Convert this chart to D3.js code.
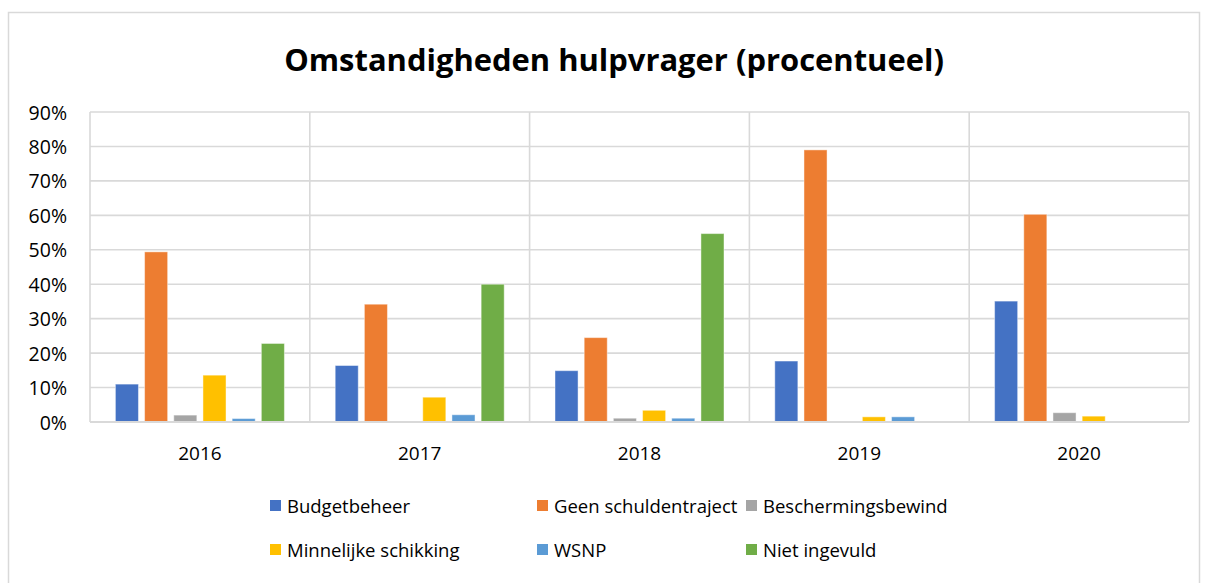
<!DOCTYPE html>
<html>
<head>
<meta charset="utf-8">
<script src="https://cdn.jsdelivr.net/npm/d3@7"></script>
<style>
  html, body { margin: 0; padding: 0; background: #ffffff; }
  svg { display: block; }
  text { font-family: "Open Sans", "Noto Sans", sans-serif; fill: #000; }
</style>
</head>
<body>
<svg id="chart" width="1208" height="583"></svg>
<script>
// ---- data ----
const years = ["2016", "2017", "2018", "2019", "2020"];
const seriesNames = ["Budgetbeheer", "Geen schuldentraject", "Beschermingsbewind",
                     "Minnelijke schikking", "WSNP", "Niet ingevuld"];
const budgetbeheer        = [11.0, 16.4, 14.9, 17.7, 35.1];
const geenSchuldentraject = [49.4, 34.2, 24.5, 79.0, 60.3];
const beschermingsbewind  = [2.0, 0.0, 1.1, 0.0, 2.7];
const minnelijkeSchikking = [13.6, 7.2, 3.4, 1.5, 1.7];
const wsnp                = [1.0, 2.1, 1.1, 1.5, 0.0];
const nietIngevuld        = [22.8, 40.0, 54.7, 0.0, 0.0];
const yTicks = [0, 10, 20, 30, 40, 50, 60, 70, 80, 90];
const titleText = "Omstandigheden hulpvrager (procentueel)";

const seriesValues = [budgetbeheer, geenSchuldentraject, beschermingsbewind,
                      minnelijkeSchikking, wsnp, nietIngevuld];
const colors = ["#4472C4", "#ED7D31", "#A5A5A5", "#FFC000", "#5B9BD5", "#70AD47"];

const svg = d3.select("#chart");

// outer chart border
svg.append("rect").attr("x", 8.5).attr("y", 12.5).attr("width", 1191).attr("height", 580)
  .attr("fill", "#fff").attr("stroke", "#D9D9D9").attr("stroke-width", 1.5);

// title
const title = svg.append("text").attr("x", 614).attr("y", 71)
  .attr("text-anchor", "middle").attr("font-weight", "bold").attr("font-size", 28)
  .text(titleText);
(function(){
  const w = title.node().getComputedTextLength();
  const fs = 28 * 660 / w;
  title.attr("font-size", Math.min(fs, 34));
})();

// scales
const plotLeft = 90, plotRight = 1189, plotTop = 112, plotBottom = 422;
const x0 = d3.scaleBand().domain(years).range([plotLeft, plotRight]).padding(0);
const x1 = d3.scaleBand().domain(seriesNames).range([0, x0.bandwidth()])
  .paddingInner(0.21).paddingOuter(0.87);
const y = d3.scaleLinear().domain([0, 90]).range([plotBottom, plotTop]);

// horizontal gridlines
svg.append("g").selectAll("line").data(yTicks).join("line")
  .attr("x1", plotLeft).attr("x2", plotRight)
  .attr("y1", d => y(d)).attr("y2", d => y(d))
  .attr("stroke", "#D9D9D9").attr("stroke-width", 1.6);

// vertical gridlines (category boundaries)
const vlines = years.map(yr => x0(yr)).concat([plotRight]);
svg.append("g").selectAll("line").data(vlines).join("line")
  .attr("x1", d => d).attr("x2", d => d)
  .attr("y1", plotTop).attr("y2", plotBottom)
  .attr("stroke", "#D9D9D9").attr("stroke-width", 1.6);

// bars
const groups = svg.append("g").selectAll("g").data(years).join("g")
  .attr("transform", d => `translate(${x0(d)},0)`);
groups.selectAll("rect")
  .data((yr, i) => seriesNames.map((s, j) => ({ s, j, v: seriesValues[j][i] })))
  .join("rect")
  .filter(d => d.v > 0)
  .attr("x", d => x1(d.s))
  .attr("width", x1.bandwidth())
  .attr("y", d => y(d.v))
  .attr("height", d => y(0) - y(d.v))
  .attr("fill", d => colors[d.j])
  .attr("stroke", "#ffffff").attr("stroke-opacity", 0.45).attr("stroke-width", 1);

// baseline axis
svg.append("line").attr("x1", plotLeft).attr("x2", plotRight)
  .attr("y1", y(0)).attr("y2", y(0)).attr("stroke", "#D9D9D9").attr("stroke-width", 1.8);

// y axis labels
const yAxis = d3.axisLeft(y).tickValues(yTicks).tickFormat(d => d + "%").tickSize(0).tickPadding(0);
const gy = svg.append("g").attr("transform", `translate(67,0)`).call(yAxis);
gy.select(".domain").remove();
gy.selectAll("text").attr("font-size", 19.5).attr("font-family", "'Open Sans', sans-serif")
  .attr("fill", "#000").attr("dy", "0.36em");

// x axis labels
const xAxis = d3.axisBottom(x0).tickSize(0).tickPadding(0);
const gx = svg.append("g").attr("transform", `translate(0,${plotBottom})`).call(xAxis);
gx.select(".domain").remove();
gx.selectAll("text").attr("font-size", 19).attr("font-family", "'Open Sans', sans-serif")
  .attr("fill", "#000").attr("y", 38).attr("dy", "0");

// legend
const legendCols = [270, 537, 746];
const legendRows = [506, 550];
const legend = svg.append("g").selectAll("g").data(seriesNames).join("g")
  .attr("transform", (d, i) => `translate(${legendCols[i % 3]},${legendRows[Math.floor(i / 3)]})`);
legend.append("rect").attr("x", 0).attr("y", -6).attr("width", 11).attr("height", 11)
  .attr("fill", (d, i) => colors[i]);
legend.append("text").attr("x", 17).attr("y", 0).attr("dy", "0.36em")
  .attr("font-size", 18.5).text(d => d);
</script>
</body>
</html>
